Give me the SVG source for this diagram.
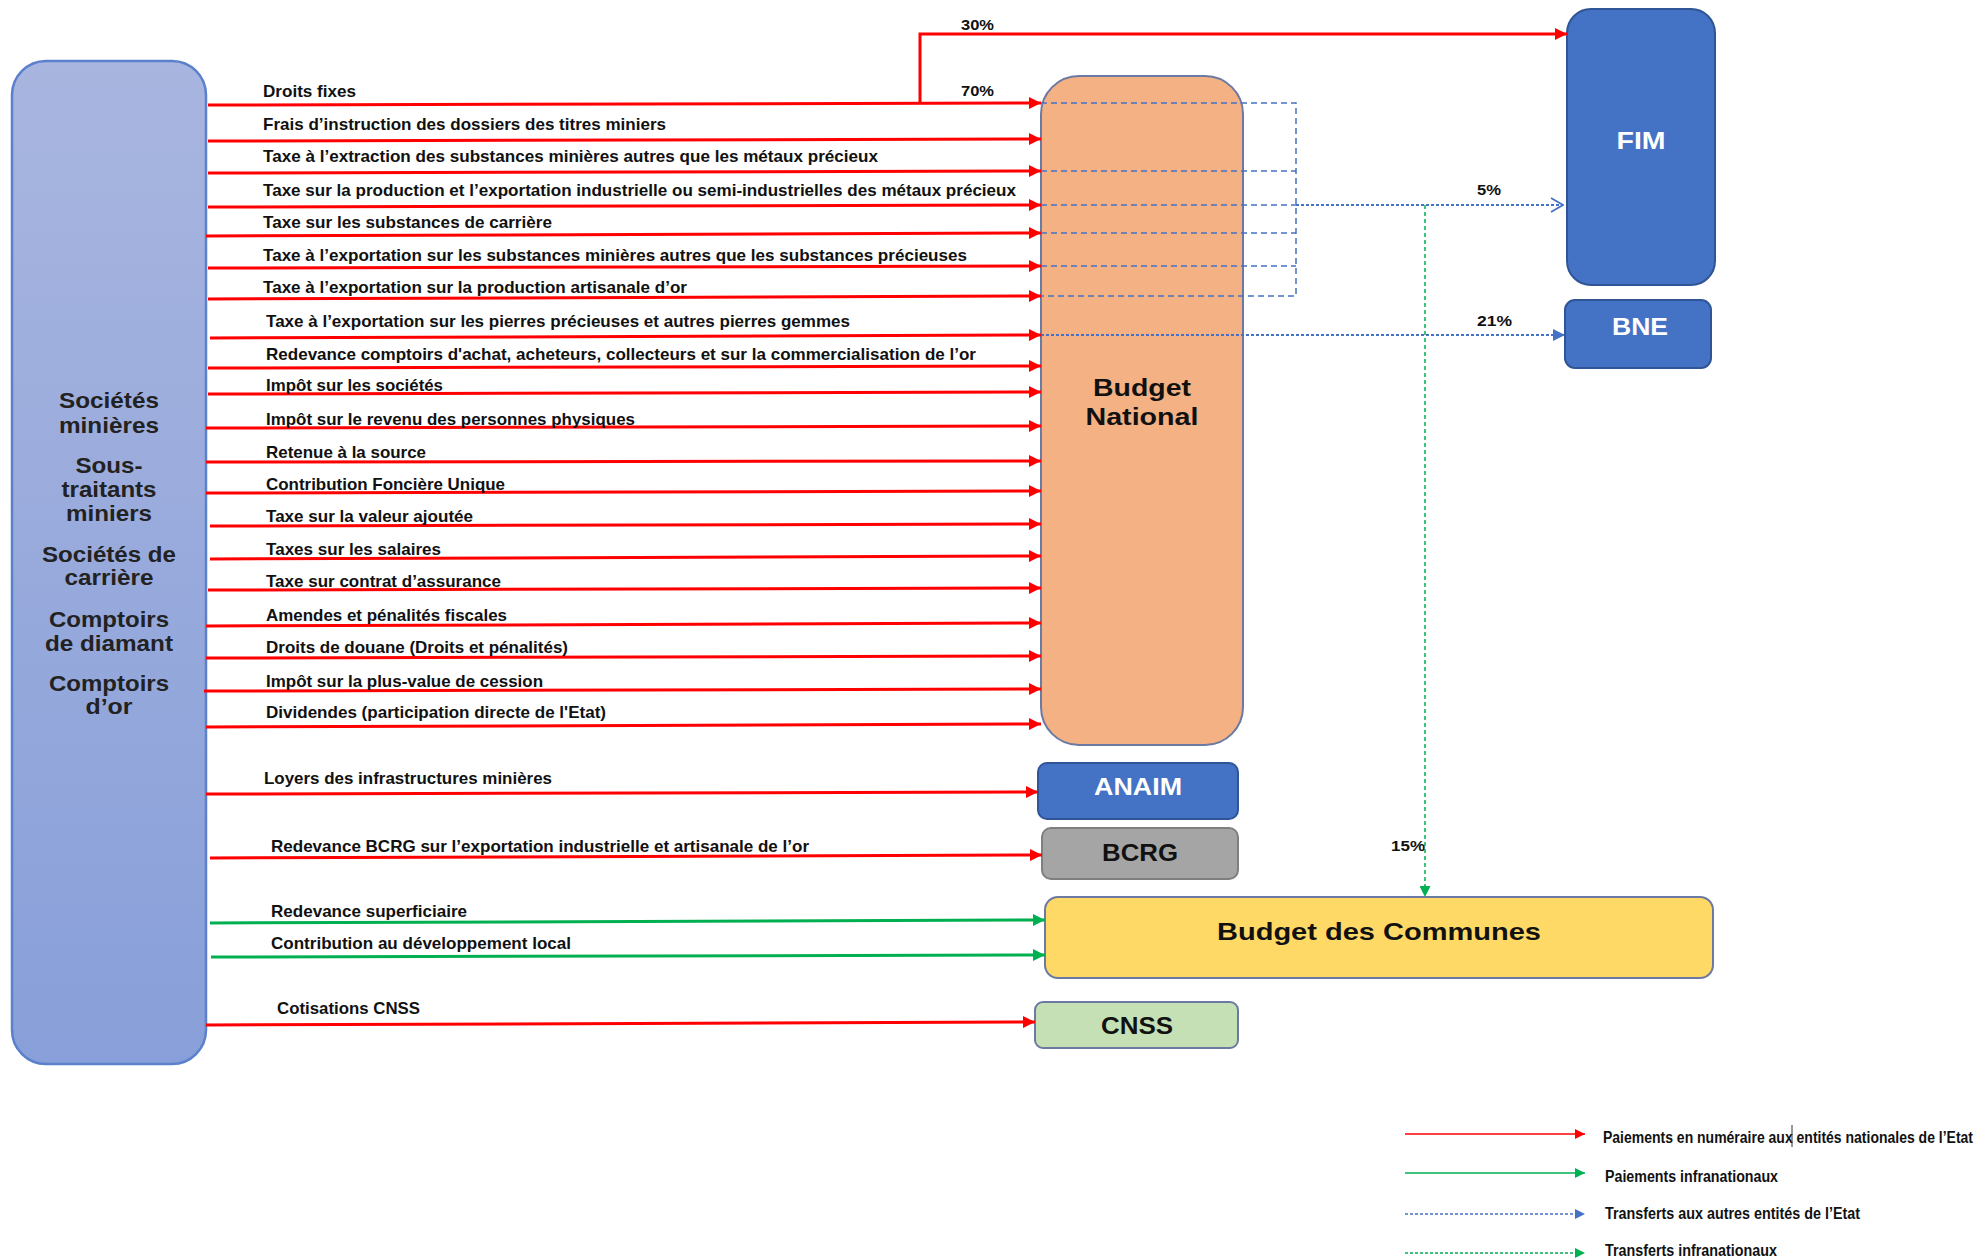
<svg xmlns="http://www.w3.org/2000/svg" width="1986" height="1260" viewBox="0 0 1986 1260">
<style>
text{font-family:"Liberation Sans",Arial,sans-serif;font-weight:bold;fill:#111}
.lbl{font-size:16.5px}
.pct{font-size:14px}
.side{font-size:22px;fill:#222;text-anchor:middle}
.nt{font-size:24px;text-anchor:middle}
.wt{fill:#fff}
.leg{font-size:12px}
.red{stroke:#ff0000;stroke-width:3;fill:none}
.grn{stroke:#00b050;stroke-width:3;fill:none}
.bd{stroke:#4472c4;stroke-width:1.5;stroke-dasharray:6 4;fill:none}
.bdot{stroke:#4472c4;stroke-width:2;stroke-dasharray:3 2;fill:none}
.gdot{stroke:#00b050;stroke-width:1.5;stroke-dasharray:4 3;fill:none}
</style>
<defs>
<linearGradient id="gl" x1="0" y1="0" x2="0" y2="1">
<stop offset="0" stop-color="#a8b5df"/>
<stop offset="1" stop-color="#889fd9"/>
</linearGradient>
<marker id="ar" viewBox="0 0 12 12" refX="12" refY="6" markerWidth="12" markerHeight="12" markerUnits="userSpaceOnUse" orient="auto"><path d="M0,0 L12,6 L0,12 z" fill="#ff0000"/></marker>
<marker id="ag" viewBox="0 0 12 12" refX="12" refY="6" markerWidth="12" markerHeight="12" markerUnits="userSpaceOnUse" orient="auto"><path d="M0,0 L12,6 L0,12 z" fill="#00b050"/></marker>
<marker id="ab" viewBox="0 0 12 12" refX="12" refY="6" markerWidth="12" markerHeight="12" markerUnits="userSpaceOnUse" orient="auto"><path d="M0,0 L12,6 L0,12 z" fill="#4472c4"/></marker>
<marker id="abo" viewBox="0 0 14 16" refX="13" refY="8" markerWidth="14" markerHeight="16" markerUnits="userSpaceOnUse" orient="auto"><path d="M1,1 L13,8 L1,15" fill="none" stroke="#4472c4" stroke-width="1.8"/></marker>
<marker id="agd" viewBox="0 0 10 10" refX="10" refY="5" markerWidth="11" markerHeight="11" markerUnits="userSpaceOnUse" orient="auto"><path d="M0,0 L10,5 L0,10 z" fill="#00b050"/></marker>
<marker id="lr" viewBox="0 0 10 10" refX="10" refY="5" markerWidth="10" markerHeight="10" markerUnits="userSpaceOnUse" orient="auto"><path d="M0,0 L10,5 L0,10 z" fill="#ff0000"/></marker>
<marker id="lg" viewBox="0 0 10 10" refX="10" refY="5" markerWidth="10" markerHeight="10" markerUnits="userSpaceOnUse" orient="auto"><path d="M0,0 L10,5 L0,10 z" fill="#00b050"/></marker>
<marker id="lb" viewBox="0 0 10 10" refX="10" refY="5" markerWidth="10" markerHeight="10" markerUnits="userSpaceOnUse" orient="auto"><path d="M0,0 L10,5 L0,10 z" fill="#4472c4"/></marker>
</defs>
<rect width="1986" height="1260" fill="#ffffff"/>

<g id="societes">
<rect x="12" y="61" width="194" height="1003" rx="34" fill="url(#gl)" stroke="#5b80cc" stroke-width="2.5"/>
<text class="side" x="109" y="408" textLength="100" lengthAdjust="spacingAndGlyphs">Sociétés</text>
<text class="side" x="109" y="433" textLength="100" lengthAdjust="spacingAndGlyphs">minières</text>
<text class="side" x="109" y="473" textLength="67" lengthAdjust="spacingAndGlyphs">Sous-</text>
<text class="side" x="109" y="497" textLength="95" lengthAdjust="spacingAndGlyphs">traitants</text>
<text class="side" x="109" y="521" textLength="86" lengthAdjust="spacingAndGlyphs">miniers</text>
<text class="side" x="109" y="562" textLength="134" lengthAdjust="spacingAndGlyphs">Sociétés de</text>
<text class="side" x="109" y="585" textLength="89" lengthAdjust="spacingAndGlyphs">carrière</text>
<text class="side" x="109" y="627" textLength="120" lengthAdjust="spacingAndGlyphs">Comptoirs</text>
<text class="side" x="109" y="651" textLength="128" lengthAdjust="spacingAndGlyphs">de diamant</text>
<text class="side" x="109" y="691" textLength="120" lengthAdjust="spacingAndGlyphs">Comptoirs</text>
<text class="side" x="109" y="714" textLength="47" lengthAdjust="spacingAndGlyphs">d’or</text>
</g>

<g id="budget-national">
<rect x="1041" y="76" width="202" height="669" rx="38" fill="#f4b183" stroke="#6c79a3" stroke-width="2"/>
<text class="nt" x="1142" y="396" textLength="98" lengthAdjust="spacingAndGlyphs">Budget</text>
<text class="nt" x="1142" y="425" textLength="113" lengthAdjust="spacingAndGlyphs">National</text>
</g>

<g id="fim">
<rect x="1567" y="9" width="148" height="276" rx="24" fill="#4472c4" stroke="#2f5597" stroke-width="2"/>
<text class="nt wt" x="1641" y="149" font-size="26" textLength="49" lengthAdjust="spacingAndGlyphs">FIM</text>
</g>

<g id="bne">
<rect x="1565" y="300" width="146" height="68" rx="10" fill="#4472c4" stroke="#2f5597" stroke-width="2"/>
<text class="nt wt" x="1640" y="335" textLength="56" lengthAdjust="spacingAndGlyphs">BNE</text>
</g>

<g id="anaim">
<rect x="1038" y="763" width="200" height="56" rx="9" fill="#4472c4" stroke="#2f5597" stroke-width="2"/>
<text class="nt wt" x="1138" y="795" font-size="22" textLength="88" lengthAdjust="spacingAndGlyphs">ANAIM</text>
</g>

<g id="bcrg">
<rect x="1042" y="828" width="196" height="51" rx="9" fill="#a5a5a5" stroke="#7f7f7f" stroke-width="2"/>
<text class="nt" x="1140" y="861" font-size="22" textLength="76" lengthAdjust="spacingAndGlyphs">BCRG</text>
</g>

<g id="budget-communes">
<rect x="1045" y="897" width="668" height="81" rx="13" fill="#ffd966" stroke="#6c79a3" stroke-width="2"/>
<text class="nt" x="1379" y="940" font-size="24" textLength="324" lengthAdjust="spacingAndGlyphs">Budget des Communes</text>
</g>

<g id="cnss">
<rect x="1035" y="1002" width="203" height="46" rx="8" fill="#c5e0b4" stroke="#6c79a3" stroke-width="2"/>
<text class="nt" x="1137" y="1034" font-size="22" textLength="72" lengthAdjust="spacingAndGlyphs">CNSS</text>
</g>

<g id="connectors">
<polyline class="red" points="920,103 920,34 1567,34" marker-end="url(#ar)"/>
<line class="red" x1="208" y1="105" x2="1041" y2="103" marker-end="url(#ar)"/>
<line class="red" x1="208" y1="141" x2="1041" y2="139" marker-end="url(#ar)"/>
<line class="red" x1="208" y1="173" x2="1041" y2="171" marker-end="url(#ar)"/>
<line class="red" x1="208" y1="207" x2="1041" y2="205" marker-end="url(#ar)"/>
<line class="red" x1="206" y1="236" x2="1041" y2="233" marker-end="url(#ar)"/>
<line class="red" x1="208" y1="268" x2="1041" y2="266" marker-end="url(#ar)"/>
<line class="red" x1="208" y1="299" x2="1041" y2="296" marker-end="url(#ar)"/>
<line class="red" x1="210" y1="338" x2="1041" y2="335" marker-end="url(#ar)"/>
<line class="red" x1="208" y1="368" x2="1041" y2="366" marker-end="url(#ar)"/>
<line class="red" x1="208" y1="394" x2="1041" y2="392" marker-end="url(#ar)"/>
<line class="red" x1="206" y1="428" x2="1041" y2="426" marker-end="url(#ar)"/>
<line class="red" x1="206" y1="462" x2="1041" y2="461" marker-end="url(#ar)"/>
<line class="red" x1="206" y1="493" x2="1041" y2="491" marker-end="url(#ar)"/>
<line class="red" x1="210" y1="526" x2="1041" y2="524" marker-end="url(#ar)"/>
<line class="red" x1="210" y1="559" x2="1041" y2="556" marker-end="url(#ar)"/>
<line class="red" x1="208" y1="590" x2="1041" y2="588" marker-end="url(#ar)"/>
<line class="red" x1="206" y1="626" x2="1041" y2="623" marker-end="url(#ar)"/>
<line class="red" x1="206" y1="658" x2="1041" y2="656" marker-end="url(#ar)"/>
<line class="red" x1="204" y1="691" x2="1041" y2="689" marker-end="url(#ar)"/>
<line class="red" x1="206" y1="727" x2="1041" y2="724" marker-end="url(#ar)"/>
<line class="red" x1="206" y1="794" x2="1038" y2="792" marker-end="url(#ar)"/>
<line class="red" x1="210" y1="858" x2="1042" y2="855" marker-end="url(#ar)"/>
<line class="grn" x1="210" y1="923" x2="1045" y2="920" marker-end="url(#ag)"/>
<line class="grn" x1="211" y1="957" x2="1045" y2="955" marker-end="url(#ag)"/>
<line class="red" x1="206" y1="1025" x2="1035" y2="1022" marker-end="url(#ar)"/>

<path class="bd" d="M1041,103 H1296 V296 H1041 M1041,171 H1296 M1041,205 H1296 M1041,233 H1296 M1041,266 H1296"/>
<line class="bdot" x1="1296" y1="205" x2="1563" y2="205" marker-end="url(#abo)"/>
<line class="bdot" x1="1041" y1="335" x2="1565" y2="335" marker-end="url(#ab)"/>
<line class="gdot" x1="1425" y1="205" x2="1425" y2="897" marker-end="url(#agd)"/>
</g>

<g id="labels">
<text class="lbl" x="263" y="97" textLength="93" lengthAdjust="spacingAndGlyphs">Droits fixes</text>
<text class="lbl" x="263" y="130" textLength="403" lengthAdjust="spacingAndGlyphs">Frais d’instruction des dossiers des titres miniers</text>
<text class="lbl" x="263" y="162" textLength="615" lengthAdjust="spacingAndGlyphs">Taxe à l’extraction des substances minières autres que les métaux précieux</text>
<text class="lbl" x="263" y="196" textLength="753" lengthAdjust="spacingAndGlyphs">Taxe sur la production et l’exportation industrielle ou semi-industrielles des métaux précieux</text>
<text class="lbl" x="263" y="228" textLength="289" lengthAdjust="spacingAndGlyphs">Taxe sur les substances de carrière</text>
<text class="lbl" x="263" y="261" textLength="704" lengthAdjust="spacingAndGlyphs">Taxe à l’exportation sur les substances minières autres que les substances précieuses</text>
<text class="lbl" x="263" y="293" textLength="424" lengthAdjust="spacingAndGlyphs">Taxe à l’exportation sur la production artisanale d’or</text>
<text class="lbl" x="266" y="327" textLength="584" lengthAdjust="spacingAndGlyphs">Taxe à l’exportation sur les pierres précieuses et autres pierres gemmes</text>
<text class="lbl" x="266" y="360" textLength="710" lengthAdjust="spacingAndGlyphs">Redevance comptoirs d'achat, acheteurs, collecteurs et sur la commercialisation de l’or</text>
<text class="lbl" x="266" y="391" textLength="177" lengthAdjust="spacingAndGlyphs">Impôt sur les sociétés</text>
<text class="lbl" x="266" y="425" textLength="369" lengthAdjust="spacingAndGlyphs">Impôt sur le revenu des personnes physiques</text>
<text class="lbl" x="266" y="458" textLength="160" lengthAdjust="spacingAndGlyphs">Retenue à la source</text>
<text class="lbl" x="266" y="490" textLength="239" lengthAdjust="spacingAndGlyphs">Contribution Foncière Unique</text>
<text class="lbl" x="266" y="522" textLength="207" lengthAdjust="spacingAndGlyphs">Taxe sur la valeur ajoutée</text>
<text class="lbl" x="266" y="555" textLength="175" lengthAdjust="spacingAndGlyphs">Taxes sur les salaires</text>
<text class="lbl" x="266" y="587" textLength="235" lengthAdjust="spacingAndGlyphs">Taxe sur contrat d’assurance</text>
<text class="lbl" x="266" y="621" textLength="241" lengthAdjust="spacingAndGlyphs">Amendes et pénalités fiscales</text>
<text class="lbl" x="266" y="653" textLength="302" lengthAdjust="spacingAndGlyphs">Droits de douane (Droits et pénalités)</text>
<text class="lbl" x="266" y="687" textLength="277" lengthAdjust="spacingAndGlyphs">Impôt sur la plus-value de cession</text>
<text class="lbl" x="266" y="718" textLength="340" lengthAdjust="spacingAndGlyphs">Dividendes (participation directe de l'Etat)</text>
<text class="lbl" x="264" y="784" textLength="288" lengthAdjust="spacingAndGlyphs">Loyers des infrastructures minières</text>
<text class="lbl" x="271" y="852" textLength="538" lengthAdjust="spacingAndGlyphs">Redevance BCRG sur l’exportation industrielle et artisanale de l’or</text>
<text class="lbl" x="271" y="917" textLength="196" lengthAdjust="spacingAndGlyphs">Redevance superficiaire</text>
<text class="lbl" x="271" y="949" textLength="300" lengthAdjust="spacingAndGlyphs">Contribution au développement local</text>
<text class="lbl" x="277" y="1014" textLength="143" lengthAdjust="spacingAndGlyphs">Cotisations CNSS</text>
<text class="pct" x="961" y="30" textLength="33" lengthAdjust="spacingAndGlyphs">30%</text>
<text class="pct" x="961" y="96" textLength="33" lengthAdjust="spacingAndGlyphs">70%</text>
<text class="pct" x="1477" y="195" textLength="24" lengthAdjust="spacingAndGlyphs">5%</text>
<text class="pct" x="1477" y="326" textLength="35" lengthAdjust="spacingAndGlyphs">21%</text>
<text class="pct" x="1391" y="851" textLength="34" lengthAdjust="spacingAndGlyphs">15%</text>
</g>

<g id="legend">
<line x1="1405" y1="1134" x2="1585" y2="1134" stroke="#ff0000" stroke-width="1.5" marker-end="url(#lr)"/>
<line x1="1405" y1="1173" x2="1585" y2="1173" stroke="#00b050" stroke-width="1.5" marker-end="url(#lg)"/>
<line x1="1405" y1="1214" x2="1585" y2="1214" stroke="#4472c4" stroke-width="1.5" stroke-dasharray="3 2" marker-end="url(#lb)"/>
<line x1="1405" y1="1253" x2="1585" y2="1253" stroke="#00b050" stroke-width="1.5" stroke-dasharray="3 2" marker-end="url(#lg)"/>
<text class="leg" transform="translate(1603,1143) scale(1,1.33)" x="0" y="0" textLength="370" lengthAdjust="spacingAndGlyphs">Paiements en numéraire aux entités nationales de l’Etat</text>
<line x1="1792" y1="1125" x2="1792" y2="1147" stroke="#333" stroke-width="1"/>
<text class="leg" transform="translate(1605,1182) scale(1,1.33)" x="0" y="0" textLength="173" lengthAdjust="spacingAndGlyphs">Paiements infranationaux</text>
<text class="leg" transform="translate(1605,1219) scale(1,1.33)" x="0" y="0" textLength="255" lengthAdjust="spacingAndGlyphs">Transferts aux autres entités de l’Etat</text>
<text class="leg" transform="translate(1605,1256) scale(1,1.33)" x="0" y="0" textLength="172" lengthAdjust="spacingAndGlyphs">Transferts infranationaux</text>
</g>
</svg>
